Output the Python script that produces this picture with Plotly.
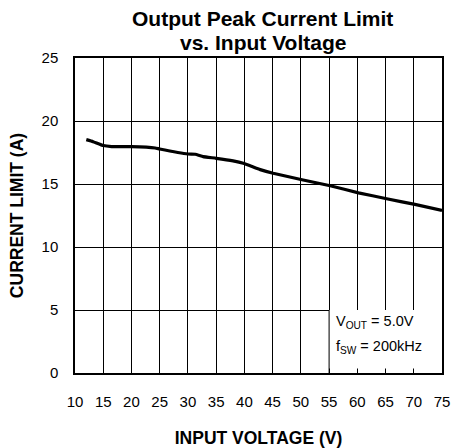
import plotly.graph_objects as go

vin = [12, 13.2, 15, 16.5, 20, 24.2, 25, 30, 31.3, 32.7, 35, 38, 39.8, 42.8, 45.1, 50.2, 55.2, 60.2, 65.2, 70.2, 75]
ilim = [18.52, 18.36, 18.05, 17.97, 17.97, 17.86, 17.78, 17.38, 17.36, 17.17, 17.04, 16.83, 16.64, 16.14, 15.85, 15.34, 14.86, 14.3, 13.83, 13.38, 12.9]

x_ticks = [10, 15, 20, 25, 30, 35, 40, 45, 50, 55, 60, 65, 70, 75]
y_ticks = [0, 5, 10, 15, 20, 25]

FONT = "Liberation Sans, Arial, sans-serif"

fig = go.Figure()
fig.add_trace(go.Scatter(x=vin, y=ilim, mode="lines",
                         line=dict(color="black", width=3.2, shape="spline", smoothing=0.3),
                         showlegend=False, hoverinfo="skip"))

fig.add_shape(type="rect", xref="x", yref="y", x0=55, x1=75, y0=0.36, y1=5,
              fillcolor="white", line=dict(width=0), layer="above")
fig.add_shape(type="line", xref="x", yref="y", x0=55, x1=55, y0=0, y1=5,
              line=dict(color="black", width=1), layer="above")

fig.add_annotation(x=55.8, y=4.05, xref="x", yref="y", xanchor="left", yanchor="middle",
                   text="V<sub>OUT</sub> = 5.0V", showarrow=False,
                   font=dict(family=FONT, size=14.5, color="black"))
fig.add_annotation(x=55.8, y=2.1, xref="x", yref="y", xanchor="left", yanchor="middle",
                   text="f<sub>SW</sub> = 200kHz", showarrow=False,
                   font=dict(family=FONT, size=14.5, color="black"))

fig.add_annotation(x=0.512, y=1.1256, xref="paper", yref="paper", xanchor="center", yanchor="middle",
                   text="<b>Output Peak Current Limit</b>", showarrow=False,
                   font=dict(family=FONT, size=21, color="black"))
fig.add_annotation(x=0.512, y=1.049, xref="paper", yref="paper", xanchor="center", yanchor="middle",
                   text="<b>vs. Input Voltage</b>", showarrow=False,
                   font=dict(family=FONT, size=21, color="black"))

fig.update_layout(
    width=451, height=448,
    margin=dict(l=75, r=9, t=58, b=75),
    paper_bgcolor="white", plot_bgcolor="white",
    font=dict(family=FONT, color="black"),
)
fig.update_xaxes(range=[10, 75], tickvals=x_ticks, ticktext=[str(v) for v in x_ticks],
                 showgrid=True, gridcolor="black", gridwidth=1,
                 showline=True, linecolor="black", linewidth=1.5, mirror=True,
                 ticks="", ticklabelstandoff=14, zeroline=False, automargin=False,
                 tickfont=dict(family=FONT, size=15, color="black"),
                 title=dict(text="<b>INPUT VOLTAGE (V)</b>", standoff=24,
                            font=dict(family=FONT, size=17.5, color="black")))
fig.update_yaxes(range=[0, 25], tickvals=y_ticks,
                 showgrid=True, gridcolor="black", gridwidth=1,
                 showline=True, linecolor="black", linewidth=1.5, mirror=True,
                 ticks="", ticklabelstandoff=12, zeroline=False, automargin=False,
                 tickfont=dict(family=FONT, size=15, color="black"),
                 title=dict(text="<b>CURRENT LIMIT (A)</b>", standoff=13,
                            font=dict(family=FONT, size=17.5, color="black")))

fig.write_html("out.html", config={"displayModeBar": False},
               post_script="document.body.style.margin='0';document.body.style.overflow='hidden';")
